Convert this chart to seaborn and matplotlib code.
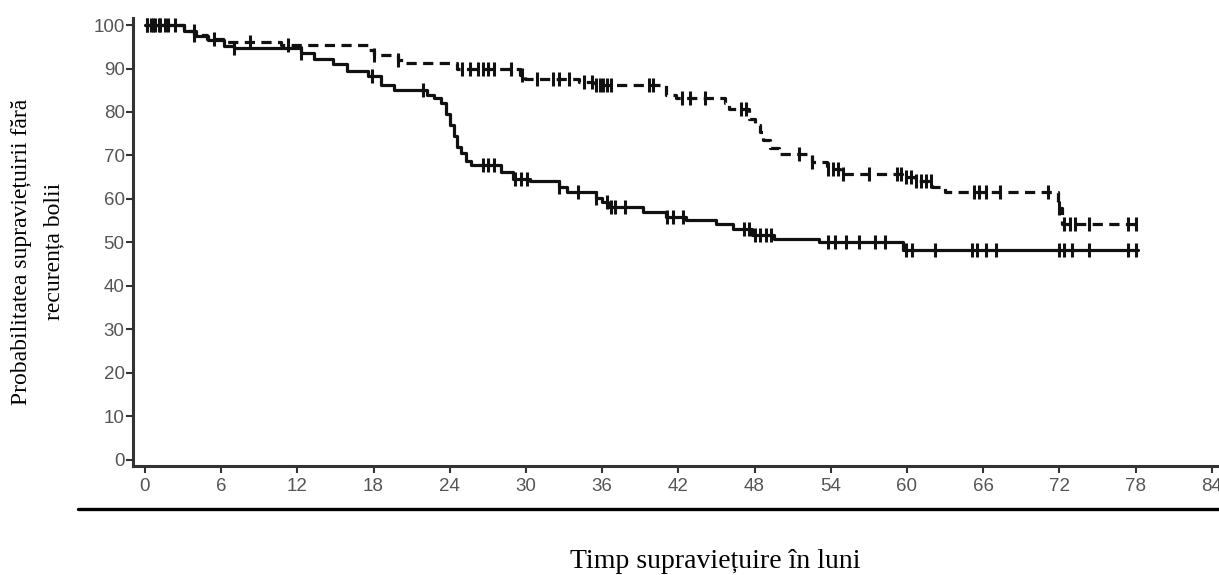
import numpy as np
import pandas as pd
import matplotlib
matplotlib.use("Agg")
import matplotlib.pyplot as plt
from matplotlib.lines import Line2D
import seaborn as sns

# Kaplan-Meier steps (months, % survival)
solid_t = [0, 3.1, 4.0, 5.0, 6.2, 7.0, 12.3, 13.3, 14.8, 15.9, 17.6, 18.6, 19.6,
           22.2, 22.8, 23.3, 23.7, 24.0, 24.3, 24.6, 24.9, 25.3, 25.7, 28.0, 29.0,
           30.3, 32.6, 33.2, 35.5, 36.0, 36.5, 39.2, 41.0, 42.6, 45.0, 46.3, 47.8,
           49.5, 53.1, 59.7, 78.2]
solid_s = [100, 98.6, 97.5, 96.5, 95.2, 94.7, 93.5, 92.1, 91.0, 89.4, 88.2, 86.3, 85.1,
           84.0, 83.3, 82.0, 79.5, 77.0, 74.5, 72.0, 70.5, 68.8, 67.8, 66.3, 64.7,
           64.2, 62.8, 61.7, 60.3, 59.2, 58.2, 57.0, 55.9, 55.2, 54.3, 53.1, 51.7,
           50.9, 50.1, 48.3, 48.3]
solid_cens = [0.2, 0.5, 0.8, 1.2, 1.8, 3.9, 7.0, 12.3, 17.9, 21.9, 26.6, 27.0, 27.5,
              29.1, 29.6, 30.1, 32.6, 34.1, 35.5, 36.4, 36.7, 37.0, 37.8, 41.1, 41.6,
              42.4, 47.2, 47.6, 48.0, 48.4, 48.9, 49.3, 53.8, 54.3, 55.2, 56.2, 57.5,
              58.3, 59.9, 60.4, 62.2, 65.1, 65.5, 66.2, 67.0, 72.0, 72.4, 73.0, 74.3,
              77.4, 78.0]

dash_t = [0, 3.1, 3.9, 4.9, 6.5, 10.7, 17.6, 18.0, 19.9, 20.4, 24.6, 29.5, 29.9,
          34.2, 35.3, 41.0, 41.8, 45.7, 46.0, 47.6, 48.0, 48.4, 48.7, 49.2, 49.9,
          52.5, 53.7, 54.7, 59.6, 60.6, 62.0, 63.0, 71.9, 72.2, 78.0]
dash_s = [100, 98.6, 97.8, 96.8, 96.0, 95.5, 94.3, 93.2, 92.0, 91.3, 89.8, 88.5, 87.5,
          86.8, 86.3, 84.0, 83.2, 82.0, 80.6, 78.5, 77.0, 75.5, 73.5, 71.8, 70.4,
          68.6, 66.8, 65.8, 65.0, 64.2, 62.8, 61.5, 58.0, 54.3, 54.3]
dash_cens = [0.2, 0.6, 1.1, 1.6, 2.4, 3.9, 5.4, 8.3, 11.3, 18.0, 19.9, 25.0, 25.6,
             26.2, 26.6, 27.0, 27.5, 28.8, 29.7, 30.9, 32.1, 32.6, 33.4, 34.6, 35.2,
             35.5, 35.8, 36.1, 36.4, 36.7, 39.7, 40.0, 42.3, 42.9, 44.1, 46.9, 47.3,
             51.5, 52.5, 53.8, 54.2, 54.6, 55.0, 57.0, 59.2, 59.5, 59.9, 60.3, 60.7,
             61.1, 61.5, 61.9, 65.3, 65.7, 66.2, 67.3, 71.1, 72.0, 72.4, 72.8, 73.2,
             74.3, 77.4, 78.0]

xticks = list(range(0, 85, 6))
yticks = list(range(0, 101, 10))


def cens_points(t, s, c):
    t = np.asarray(t)
    s = np.asarray(s)
    idx = np.searchsorted(t, c, side="right") - 1
    return pd.DataFrame({"t": c, "s": s[idx]})


sns.set_theme(style="ticks")
plt.rcParams["font.family"] = ["Liberation Sans", "DejaVu Sans"]

fig = plt.figure(figsize=(12.19, 5.75), dpi=100)
ax = fig.add_axes([0.1091, 0.1896, 0.8909, 0.779])

solid = pd.DataFrame({"t": solid_t, "s": solid_s})
dash = pd.DataFrame({"t": dash_t, "s": dash_s})

sns.lineplot(data=dash, x="t", y="s", ax=ax, color="#111111", lw=2.3,
             drawstyle="steps-post", linestyle=(0, (3.2, 2.0)), estimator=None, sort=False)
sns.lineplot(data=solid, x="t", y="s", ax=ax, color="#111111", lw=2.3,
             drawstyle="steps-post", estimator=None, sort=False)

for t, s, c in [(solid_t, solid_s, solid_cens), (dash_t, dash_s, dash_cens)]:
    d = cens_points(t, s, c)
    sns.scatterplot(data=d, x="t", y="s", ax=ax, marker="|", s=110,
                    linewidth=2.2, color="#111111", zorder=3)

ax.set_xlim(-0.94, 84.57)
ax.set_ylim(-1.4, 101.6)
ax.set_xticks(xticks)
ax.set_yticks(yticks)
ax.set_xlabel("")
ax.set_ylabel("")
sns.despine(ax=ax)
for side in ["left", "bottom"]:
    ax.spines[side].set_color("#333333")
    ax.spines[side].set_linewidth(2.2)
ax.tick_params(axis="both", length=5, width=1.5, color="#333333",
               labelcolor="#555555", labelsize=13.5)
ax.tick_params(axis="x", pad=4)
ax.tick_params(axis="y", pad=1)

fig.text(0.031, 0.562, "Probabilitatea supraviețuirii fără\nrecurența bolii",
         rotation=90, ha="center", va="center", multialignment="center",
         family="Liberation Serif", fontsize=17, linespacing=1.75, color="black")
fig.text(0.587, 0.023, "Timp supraviețuire în luni", ha="center", va="center",
         family="Liberation Serif", fontsize=20, color="black")
fig.add_artist(Line2D([0.064, 1.0], [0.1148, 0.1148], transform=fig.transFigure,
                      color="black", lw=2.4))

fig.savefig("out.png", dpi=100)
